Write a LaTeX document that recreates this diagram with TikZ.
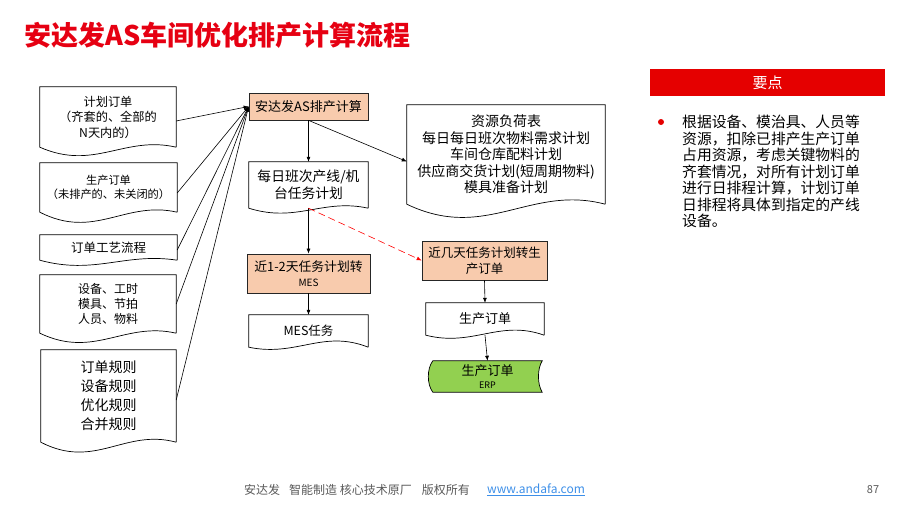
\documentclass[tikz,border=0pt]{standalone}
\usepackage{fontspec}
\setmainfont{Noto Sans CJK SC}
\usetikzlibrary{arrows.meta,calc,backgrounds}
\definecolor{peach}{HTML}{F8CBAD}
\definecolor{ttlred}{HTML}{E60012}
\definecolor{barred}{HTML}{E50000}
\definecolor{ergreen}{HTML}{92D050}
\definecolor{footgray}{HTML}{595959}
\definecolor{linkblue}{HTML}{3D8FE8}
\newcommand{\myfs}[2]{\fontsize{#1}{#2}\selectfont}
% document outline: name, trough control, crest control
\newcommand{\docwave}[3]{%
  \draw[docline] (#1.south east) -- (#1.north east) -- (#1.north west) -- (#1.south west)
    .. controls ($(#1.south west)!0.4!(#1.south east)+(0,#2)$) and ($(#1.south west)!0.62!(#1.south east)+(0,-#3)$) .. (#1.south east);}
\tikzset{
  docn/.style={inner sep=0pt, align=center},
  docline/.style={draw=black, line width=0.7pt},
  procbox/.style={draw=black!85, fill=peach, line width=0.7pt, inner sep=0pt, align=center},
  arr/.style={-{Latex[length=5pt,width=4pt]}, line width=0.6pt, draw=black},
  redarr/.style={-{Latex[length=5pt,width=4pt]}, line width=0.6pt, draw=red, dash pattern=on 7pt off 4pt},
}
\begin{document}
\begin{tikzpicture}[x=1pt,y=-1pt]
\useasboundingbox (0,0) rectangle (907,509);
% title
\node[anchor=west, text=ttlred, font=\myfs{27}{30}\bfseries, inner sep=0pt] (title) at (24,35) {安达发AS车间优化排产计算流程};

% left input documents
\node[docn, minimum width=136pt, minimum height=60pt, font=\myfs{12.2}{15.5}] (b1) at (108,117) {计划订单\\（齐套的、全部的\\N天内的）};
\node[docn, minimum width=137pt, minimum height=49pt, font=\myfs{11.2}{14}] (b2) at (108.5,187.5) {生产订单\\（未排产的、未关闭的）};
\node[docn, minimum width=137pt, minimum height=25pt, font=\myfs{12.5}{14}] (b3) at (108.5,247.5) {订单工艺流程};
\node[docn, minimum width=136pt, minimum height=58pt, font=\myfs{12}{15}] (b4) at (108,304) {设备、工时\\模具、节拍\\人员、物料};
\node[docn, minimum width=135pt, minimum height=92pt, font=\myfs{14}{19}] (b5) at (108.5,396) {订单规则\\设备规则\\优化规则\\合并规则};
\docwave{b1}{24}{12}
\docwave{b2}{28}{12}
\docwave{b3}{15}{8}
\docwave{b4}{26}{12}
\docwave{b5}{28}{14}

% centre column
\node[procbox, minimum width=119pt, minimum height=27pt, font=\myfs{13}{15}] (as) at (308.5,106.5) {安达发AS排产计算};
\node[docn, minimum width=119pt, minimum height=46pt, font=\myfs{13.8}{17}] (d1) at (308.5,185) {每日班次产线/机\\台任务计划};
\docwave{d1}{15}{10}
\node[docn, minimum width=198pt, minimum height=99pt, font=\myfs{14}{16.5}] (res) at (506,154.5) {资源负荷表\\每日每日班次物料需求计划\\车间仓库配料计划\\供应商交货计划(短周期物料)\\模具准备计划};
\docwave{res}{38}{20}
\node[procbox, minimum width=123pt, minimum height=39pt, font=\myfs{12.8}{15}] (m12) at (308.5,273.5) {近1-2天任务计划转\\{\myfs{10}{12}MES}};
\node[docn, minimum width=119pt, minimum height=32pt, font=\myfs{12.5}{14}] (mes) at (308.5,331) {MES任务};
\docwave{mes}{10}{18}

% right column
\node[procbox, minimum width=125pt, minimum height=39pt, font=\myfs{12.5}{16}] (near) at (484.5,260.5) {近几天任务计划转生\\产订单};
\node[docn, minimum width=118pt, minimum height=32pt, font=\myfs{13}{15}] (po) at (485,319) {生产订单};
\docwave{po}{12}{16}
\node[docn, minimum width=109pt, minimum height=31pt, font=\myfs{13}{13.5}] (erp) at (487.5,376.5) {生产订单\\{\myfs{9}{11}ERP}};
\begin{scope}[on background layer]
\filldraw[fill=ergreen, draw=black, line width=0.7pt]
  (erp.north east) -- (erp.north west)
  .. controls ($(erp.north west)+(-6,8)$) and ($(erp.south west)+(-6,-8)$) .. (erp.south west)
  -- (erp.south east)
  .. controls ($(erp.south east)+(-5,-8)$) and ($(erp.north east)+(-5,8)$) .. (erp.north east) -- cycle;
\end{scope}

% connectors
\draw[arr] ($(b1.east)+(0,4)$) -- (as.west);
\draw[arr] ($(b2.east)+(0,5.5)$) -- (as.west);
\draw[arr] ($(b3.east)+(0,2.5)$) -- (as.west);
\draw[arr] (b4.east) -- (as.west);
\draw[arr] ($(b5.east)+(0,4)$) -- (as.west);
\draw[arr] (as.south) -- (d1.north);
\draw[arr] (as.south) -- ($(res.west)+(0,7)$);
\draw[arr] (d1.south) -- (m12.north);
\draw[redarr] (d1.south) -- (near.west);
\draw[arr] (m12.south) -- (mes.north);
\draw[arr] (near.south) -- (po.north);
\draw[arr] (po.south) -- (erp.north);

% key points panel
\node[fill=barred, text=white, minimum width=235pt, minimum height=27pt, inner sep=0pt, font=\myfs{15}{17}] (bar) at (767.5,82.5) {要点};
\node[circle, fill=barred, minimum size=6pt, inner sep=0pt] (dot) at (661,122) {};
\node[anchor=north west, inner sep=0pt, align=left, font=\myfs{14.8}{16.5}] (pts) at (682,115) {根据设备、模治具、人员等\\资源，扣除已排产生产订单\\占用资源，考虑关键物料的\\齐套情况，对所有计划订单\\进行日排程计算，计划订单\\日排程将具体到指定的产线\\设备。};

% footer
\node[anchor=west, inner sep=0pt, text=footgray, font=\myfs{12}{14}] (foot) at (244,490) {安达发\hspace{9pt}智能制造 核心技术原厂\hspace{10pt}版权所有};
\node[anchor=west, inner sep=0pt, text=linkblue, font=\myfs{12}{14}] (link) at (487,490) {\underline{www.andafa.com}};
\node[inner sep=0pt, text=footgray, font=\myfs{11}{13}] (pg) at (873,490) {87};
\end{tikzpicture}
\end{document}
